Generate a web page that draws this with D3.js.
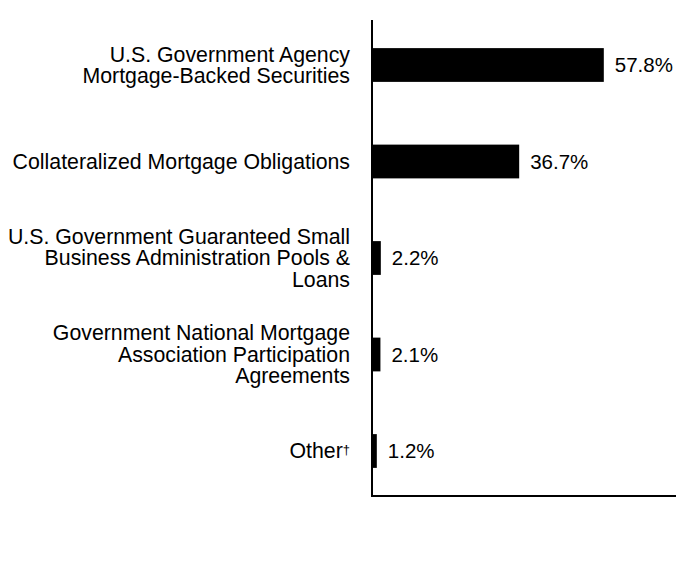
<!DOCTYPE html>
<html>
<head>
<meta charset="utf-8">
<script src="https://cdn.jsdelivr.net/npm/d3@7"></script>
<style>
  body { margin: 0; background: #fff; }
  svg text { font-family: "Liberation Sans", Arial, sans-serif; fill: #000; }
</style>
</head>
<body>
<div id="graf"></div>
<script>
// Datos
const categorias = [
  ["U.S. Government Agency", "Mortgage-Backed Securities"],
  ["Collateralized Mortgage Obligations"],
  ["U.S. Government Guaranteed Small", "Business Administration Pools &", "Loans"],
  ["Government National Mortgage", "Association Participation", "Agreements"],
  ["Other"],
]
const valores = [57.8, 36.7, 2.2, 2.1, 1.2]
const etiquetas = ["57.8%", "36.7%", "2.2%", "2.1%", "1.2%"]

const anchoTotal = 696
const altoTotal = 576
const ejeX0 = 372
const ejeX1 = 676
const ejeY0 = 20
const ejeY1 = 496

const svg = d3
  .select("#graf")
  .append("svg")
  .attr("width", anchoTotal)
  .attr("height", altoTotal)

// Escaladores
const x = d3.scaleLinear().domain([0, 75.8]).range([ejeX0, ejeX1])
const y = d3
  .scaleBand()
  .domain(d3.range(valores.length))
  .range([16.75, 499.25])
  .paddingInner(0.65)
  .paddingOuter(0.325)

// Barras
svg
  .selectAll("rect.bar")
  .data(valores)
  .join("rect")
  .attr("class", "bar")
  .attr("x", x(0))
  .attr("y", (d, i) => y(i))
  .attr("width", (d) => x(d) - x(0))
  .attr("height", y.bandwidth())
  .attr("fill", "#000")

// Etiquetas de valor
svg
  .selectAll("text.val")
  .data(valores)
  .join("text")
  .attr("class", "val")
  .attr("x", (d) => x(d) + 11)
  .attr("y", (d, i) => y(i) + y.bandwidth() / 2)
  .attr("dy", "0.35em")
  .attr("font-size", 20.5)
  .text((d, i) => etiquetas[i])

// Etiquetas de categoría
const lineH = 21.5
categorias.forEach((lineas, i) => {
  const cy = y(i) + y.bandwidth() / 2
  const t = svg
    .append("text")
    .attr("text-anchor", "end")
    .attr("font-size", 21.3)
    .attr("x", 350)
  lineas.forEach((l, j) => {
    t.append("tspan")
      .attr("x", 350)
      .attr("y", cy + (j - (lineas.length - 1) / 2) * lineH)
      .attr("dy", "0.35em")
      .text(l)
  })
  if (i === categorias.length - 1) {
    t.append("tspan").attr("font-size", 13).attr("dy", "-0.35em").text("\u2020")
  }
})

// Ejes
svg
  .append("line")
  .attr("x1", ejeX0)
  .attr("x2", ejeX0)
  .attr("y1", ejeY0)
  .attr("y2", ejeY1)
  .attr("stroke", "#000")
  .attr("stroke-width", 2)
svg
  .append("line")
  .attr("x1", ejeX0 - 1)
  .attr("x2", ejeX1)
  .attr("y1", ejeY1)
  .attr("y2", ejeY1)
  .attr("stroke", "#000")
  .attr("stroke-width", 2)
</script>
</body>
</html>
